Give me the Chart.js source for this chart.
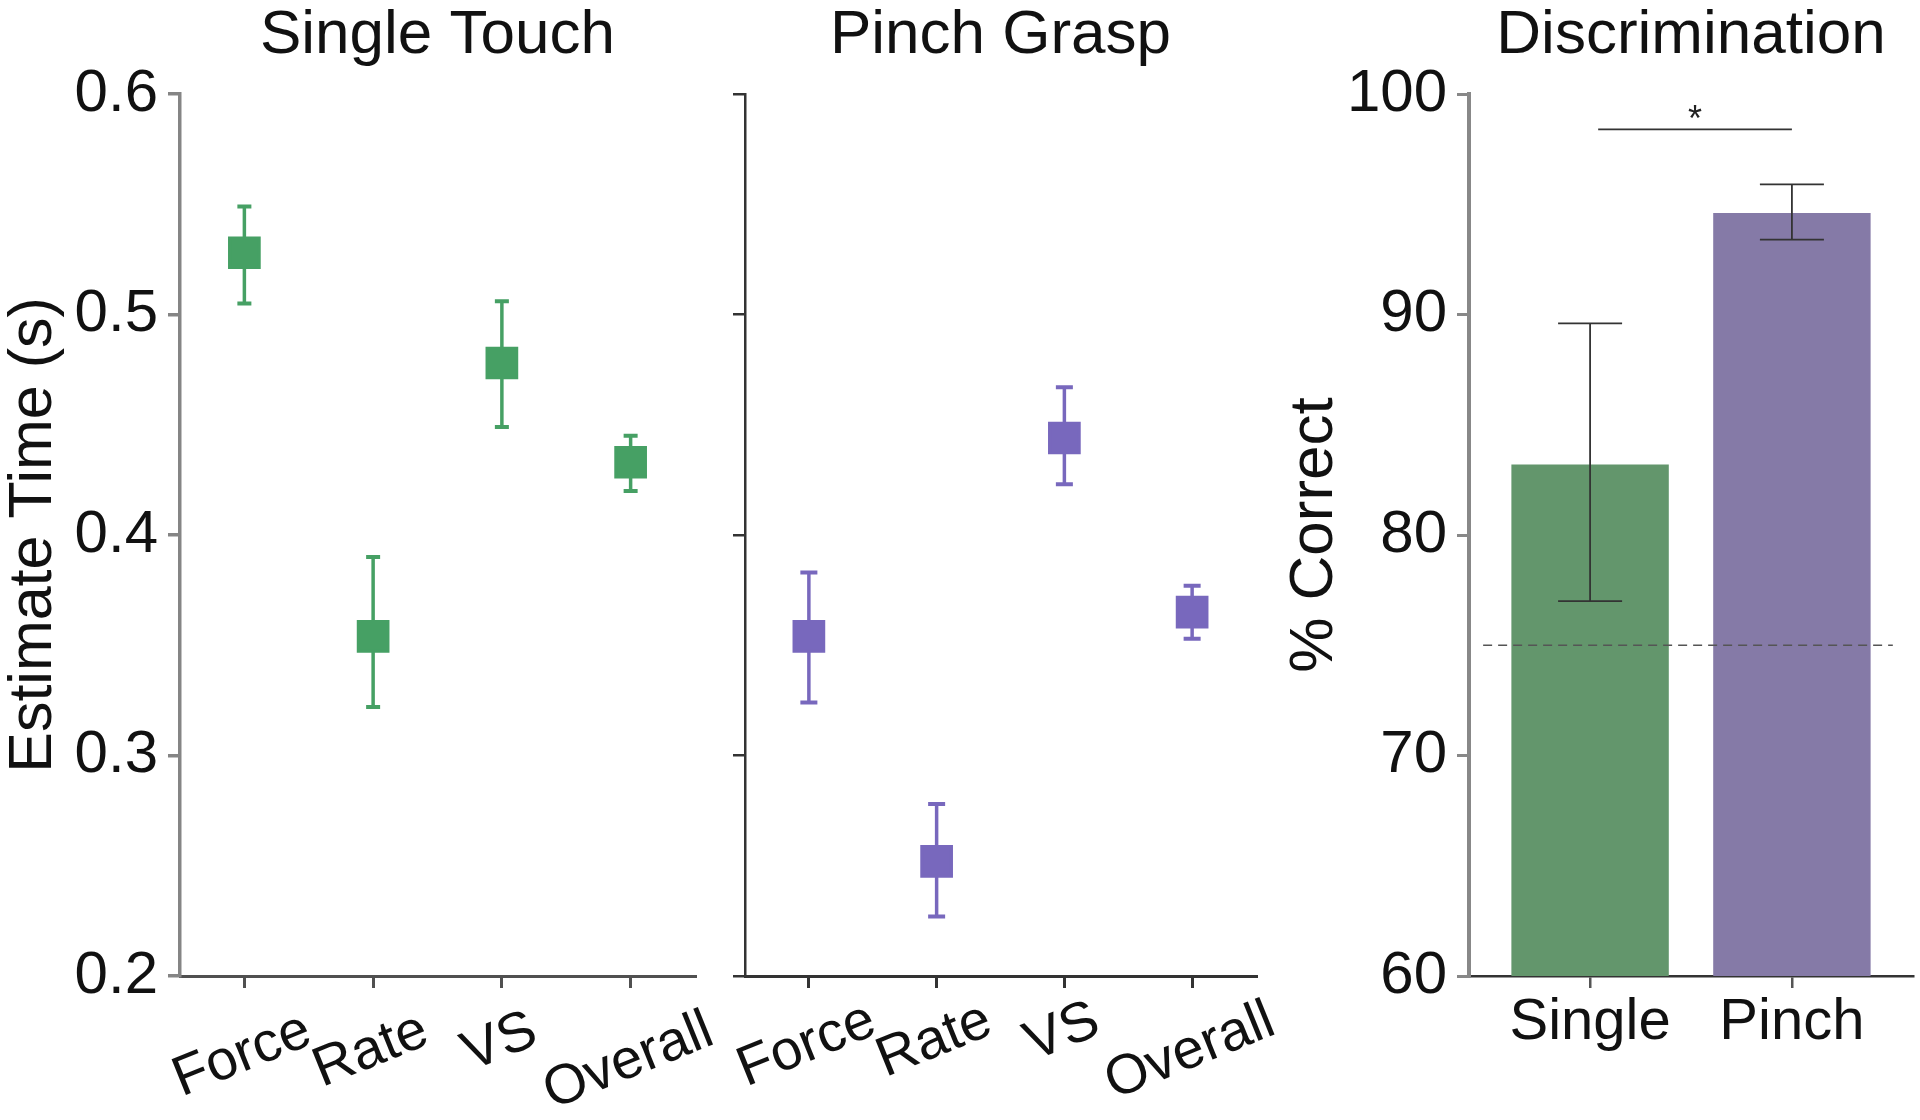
<!DOCTYPE html>
<html>
<head>
<meta charset="utf-8">
<script src="https://cdn.jsdelivr.net/npm/chart.js@4"></script>
<style>
  html, body { margin: 0; padding: 0; background: #fff; }
  .panel { position: absolute; top: 0; height: 1120px; }
</style>
</head>
<body>
<div class="panel" style="left:0;width:720px"><canvas id="single-touch"></canvas></div>
<div class="panel" style="left:720px;width:560px"><canvas id="pinch-grasp"></canvas></div>
<div class="panel" style="left:1260px;width:660px"><canvas id="discrimination"></canvas></div>
<script>
// values
const cue_labels = ["Force", "Rate", "VS", "Overall"];
const time_ticks = [0.2, 0.3, 0.4, 0.5, 0.6];

const single_mean = [0.528, 0.354, 0.478, 0.433];
const single_low = [0.505, 0.322, 0.449, 0.420];
const single_high = [0.549, 0.390, 0.506, 0.445];

const pinch_mean = [0.354, 0.252, 0.444, 0.365];
const pinch_low = [0.324, 0.227, 0.423, 0.353];
const pinch_high = [0.383, 0.278, 0.467, 0.377];

const disc_labels = ["Single", "Pinch"];
const disc_mean = [83.2, 94.6];
const disc_low = [77.0, 93.4];
const disc_high = [89.6, 95.9];
const chance_level = 75;
const chance_span = [0.47, 2.5];
const sig_span = [1.04, 2.0];
const sig_bar_y = 98.4;
const sig_star_y = 99.2;

const FONT = "'Liberation Sans', Arial, Helvetica, sans-serif";
const GREEN = "#46a064";
const PURPLE = "#7868bd";
const GREEN_BAR = "#63966c";
const PURPLE_BAR = "#857aa7";

Chart.defaults.font.family = FONT;
Chart.defaults.color = "#111";
Chart.defaults.animation = false;

// vertical error bars, drawn through the chart's y scale
const error_bars = {
	id: "errorBars",
	draw(chart, opts) {
		const ctx = chart.ctx;
		const y = chart.scales.y;
		const meta = chart.getDatasetMeta(opts.dataset || 0);
		ctx.save();
		ctx.strokeStyle = opts.color;
		meta.data.forEach((el, i) => {
			const yl = y.getPixelForValue(opts.low[i]);
			const yh = y.getPixelForValue(opts.high[i]);
			ctx.lineWidth = opts.width;
			ctx.beginPath();
			ctx.moveTo(el.x, yl);
			ctx.lineTo(el.x, yh);
			ctx.stroke();
			ctx.lineWidth = opts.capWidth || opts.width;
			ctx.beginPath();
			ctx.moveTo(el.x - opts.cap / 2, yl);
			ctx.lineTo(el.x + opts.cap / 2, yl);
			ctx.moveTo(el.x - opts.cap / 2, yh);
			ctx.lineTo(el.x + opts.cap / 2, yh);
			ctx.stroke();
		});
		ctx.restore();
	},
	beforeDatasetsDraw(chart, args, opts) {
		if (!opts.onTop) this.draw(chart, opts);
	},
	afterDatasetsDraw(chart, args, opts) {
		if (opts.onTop) this.draw(chart, opts);
	}
};

// slanted category labels, centred under each tick
const slant_labels = {
	id: "slantLabels",
	afterDraw(chart, args, opts) {
		const ctx = chart.ctx;
		const xs = chart.scales.x;
		const a = opts.angle * Math.PI / 180;
		ctx.save();
		ctx.font = `${opts.size}px ${FONT}`;
		ctx.fillStyle = "#111";
		ctx.textAlign = "center";
		ctx.textBaseline = "middle";
		opts.labels.forEach((label, i) => {
			const w = ctx.measureText(label).width;
			const h = w * Math.sin(a) + 0.72 * opts.size * Math.cos(a);
			const px = xs.getPixelForTick(i) + opts.shift;
			const py = chart.chartArea.bottom + opts.gap + h / 2;
			ctx.save();
			ctx.translate(px, py);
			ctx.rotate(-a);
			ctx.fillText(label, 0, 0);
			ctx.restore();
		});
		ctx.restore();
	}
};

const sig_star = {
	id: "sigStar",
	afterDraw(chart) {
		const ctx = chart.ctx;
		const x = chart.scales.x.getPixelForValue((sig_span[0] + sig_span[1]) / 2);
		const y = chart.scales.y.getPixelForValue(sig_star_y);
		ctx.save();
		ctx.font = `36px ${FONT}`;
		ctx.fillStyle = "#222";
		ctx.textAlign = "center";
		ctx.textBaseline = "alphabetic";
		ctx.fillText("*", x, y + 0.55 * 36);
		ctx.restore();
	}
};

let time_panel = (elem, title, mean, low, high, color, look) => {
	new Chart(elem, {
		type: "line",
		data: {
			labels: cue_labels,
			datasets: [{
				data: mean,
				showLine: false,
				pointStyle: "rect",
				pointRadius: 21,
				pointBorderWidth: 3,
				pointBackgroundColor: color,
				pointBorderColor: color
			}]
		},
		plugins: [error_bars, slant_labels],
		options: {
			responsive: true,
			maintainAspectRatio: false,
			layout: { padding: { left: 0, right: look.padRight, top: 0, bottom: 0 } },
			plugins: {
				legend: { display: false },
				tooltip: { enabled: false },
				title: {
					display: true,
					text: title,
					fullSize: false,
					color: "#111",
					font: { size: 62, weight: "normal", lineHeight: 1.0 },
					padding: { top: 5, bottom: 27 }
				},
				errorBars: { low: low, high: high, color: color, width: 3.5, capWidth: 4, cap: look.cap },
				slantLabels: { labels: cue_labels, angle: 22, size: 56, gap: look.labelGap, shift: -2 }
			},
			scales: {
				x: {
					type: "category",
					offset: true,
					afterFit: (scale) => { scale.height = 144; },
					border: { display: true, color: look.xAxis, width: 3 },
					grid: { offset: false, drawOnChartArea: false, drawTicks: true, tickLength: 12, color: look.xAxis, lineWidth: 3 },
					ticks: { display: false }
				},
				y: {
					min: time_ticks[0],
					max: time_ticks[time_ticks.length - 1],
					afterFit: (scale) => { scale.width = look.yWidth; },
					afterBuildTicks: (scale) => { scale.ticks = time_ticks.map(v => ({ value: v })); },
					border: { display: true, color: look.yAxis, width: look.yAxisWidth },
					grid: { drawOnChartArea: false, drawTicks: true, tickLength: 12, color: look.yAxis, lineWidth: look.yAxisWidth },
					ticks: {
						display: look.yLabels,
						padding: 10,
						color: "#111",
						font: { size: 60 },
						callback: (v) => Number(v).toFixed(1)
					},
					title: {
						display: look.yLabels,
						text: "Estimate Time (s)",
						color: "#111",
						font: { size: 61, lineHeight: 1.1 },
						padding: { top: 1, bottom: 0 }
					}
				}
			}
		}
	});
};

time_panel(document.getElementById("single-touch"), "Single Touch",
	single_mean, single_low, single_high, GREEN,
	{ padRight: 25, yWidth: 180, yLabels: true, xAxis: "#505050", yAxis: "#858585", yAxisWidth: 3.5, cap: 14, labelGap: 34 });

time_panel(document.getElementById("pinch-grasp"), "Pinch Grasp",
	pinch_mean, pinch_low, pinch_high, PURPLE,
	{ padRight: 21, yWidth: 25, yLabels: false, xAxis: "#333", yAxis: "#333", yAxisWidth: 2.5, cap: 17, labelGap: 24 });

new Chart(document.getElementById("discrimination"), {
	type: "bar",
	data: {
		datasets: [
			{
				type: "line",
				order: 0,
				data: chance_span.map(x => ({ x: x, y: chance_level })),
				borderColor: "#555",
				borderWidth: 1.5,
				borderDash: [9, 6],
				pointRadius: 0
			},
			{
				type: "line",
				order: 0,
				data: sig_span.map(x => ({ x: x, y: sig_bar_y })),
				borderColor: "#333",
				borderWidth: 1.8,
				pointRadius: 0
			},
			{
				type: "bar",
				order: 1,
				data: disc_mean.map((v, i) => ({ x: i + 1, y: v })),
				backgroundColor: [GREEN_BAR, PURPLE_BAR],
				borderWidth: 0,
				categoryPercentage: 1,
				barPercentage: 0.78
			}
		]
	},
	plugins: [error_bars, sig_star],
	options: {
		responsive: true,
		maintainAspectRatio: false,
		layout: { padding: { left: 0, right: 7, top: 0, bottom: 0 } },
		plugins: {
			legend: { display: false },
			tooltip: { enabled: false },
			title: {
				display: true,
				text: "Discrimination",
				fullSize: false,
				color: "#111",
				font: { size: 62, weight: "normal", lineHeight: 1.0 },
				padding: { top: 5, bottom: 27 }
			},
			errorBars: { dataset: 2, onTop: true, low: disc_low, high: disc_high, color: "#333", width: 1.8, cap: 64 }
		},
		scales: {
			x: {
				type: "linear",
				min: 0.4,
				max: 2.6,
				offset: false,
				afterFit: (scale) => { scale.height = 144; },
				afterBuildTicks: (scale) => { scale.ticks = disc_labels.map((l, i) => ({ value: i + 1 })); },
				border: { display: true, color: "#333", width: 2.5 },
				grid: { offset: false, drawOnChartArea: false, drawTicks: true, tickLength: 12, color: "#555", lineWidth: 2.5 },
				ticks: {
					padding: 0,
					color: "#111",
					font: { size: 58 },
					maxRotation: 0,
					callback: (v) => disc_labels[Math.round(v) - 1] || ""
				}
			},
			y: {
				min: 60,
				max: 100,
				afterFit: (scale) => { scale.width = 209; },
				border: { display: true, color: "#888", width: 4 },
				grid: { drawOnChartArea: false, drawTicks: true, tickLength: 12, color: "#888", lineWidth: 3 },
				ticks: {
					stepSize: 10,
					padding: 10,
					color: "#111",
					font: { size: 60 }
				},
				title: {
					display: true,
					text: "% Correct",
					color: "#111",
					font: { size: 62, lineHeight: 1.1 },
					padding: { top: 21, bottom: 0 }
				}
			}
		}
	}
});
</script>
</body>
</html>
